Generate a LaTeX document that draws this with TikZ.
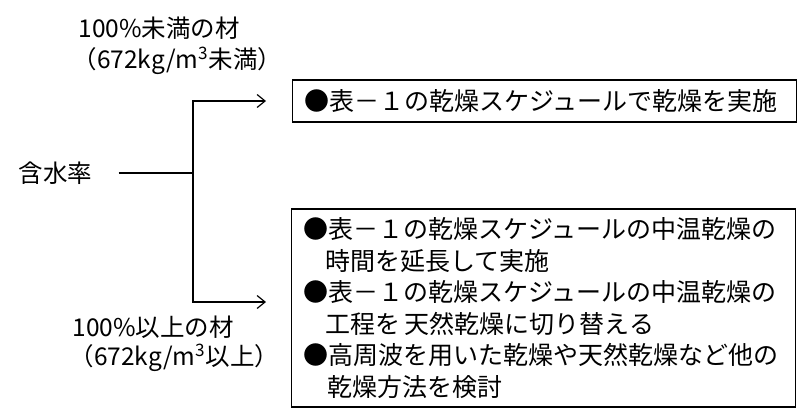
\documentclass[tikz,border=0pt]{standalone}
\usepackage{fontspec}
\setmainfont{Noto Sans CJK JP}
\usetikzlibrary{arrows.meta}

\begin{document}
\begin{tikzpicture}[x=1pt,y=-1pt,line width=1.2pt,
                every node/.style={font=\fontsize{24.5}{31.5}\selectfont,inner sep=0pt},
                label/.style={anchor=west},
                plan/.style={draw,anchor=west,align=left,text width=480pt,inner xsep=12pt,font=\fontsize{25}{31.5}\selectfont},
                arr/.style={-{Straight Barb[length=8pt,width=13pt]}}]

                \useasboundingbox (0,0) rectangle (800,415);

                \node[label] (lowA) at (78,28) {100\%未満の材};
                \node[label] (lowB) at (72,61) {（672kg/m\textsuperscript{3}未満）};
                \node[label] (highA) at (72,327) {100\%以上の材};
                \node[label] (highB) at (69,358) {（672kg/m\textsuperscript{3}以上）};
                \node[label] (moist) at (18,173) {含水率};

                \node[plan, minimum height=42pt] (dry) at (292,101) {●表－１の乾燥スケジュールで乾燥を実施};
                \node[plan, minimum height=198pt] (alt) at (291,308) {●表－１の乾燥スケジュールの中温乾燥の\\\hspace*{22pt}時間を延長して実施\\●表－１の乾燥スケジュールの中温乾燥の\\\hspace*{22pt}工程を\,天然乾燥に切り替える\\●高周波を用いた乾燥や天然乾燥など他の\\\hspace*{24pt}乾燥方法を検討};

                \coordinate (split) at (193,173);
                \coordinate (lo) at (266,302);

                \draw [shorten <=26pt] (moist.east) -- (split);
                \draw [arr, shorten >=26pt] (split) |- (dry.west);
                \draw [arr] (split) |- (lo);

\end{tikzpicture}
\end{document}
